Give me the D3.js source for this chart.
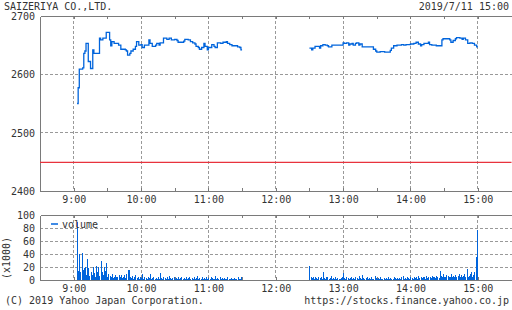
<!doctype html>
<html>
<head>
<meta charset="utf-8">
<script src="https://d3js.org/d3.v7.min.js"></script>
<style>
  body { margin: 0; background: #fff; }
  svg text { font: 10px "DejaVu Sans Mono", monospace; fill: #333; }
  .grid line { stroke: #999; stroke-dasharray: 3,2; shape-rendering: crispEdges; }
  .frame path, .frame line { stroke: #7a7a7a; shape-rendering: crispEdges; }
</style>
</head>
<body>
<script>
// minutes after 9:00 where the price changed, and the new price
var amTimes  = [3,4,5,8,9,10,11,13,15,17,18,23,24,26,29,32,33,34,36,40,42,46,47,48,50,51,53,55,56,58,60,61,63,67,68,70,73,74,76,77,80,83,85,87,90,92,93,98,99,102,104,106,108,109,111,112,114,116,117,119,120,123,125,126,128,131,133,136,137,139,141,146,148,149,150];
var amPrices = [2550,2577,2609,2611,2636,2640,2653,2622,2610,2642,2636,2662,2659,2662,2672,2659,2649,2656,2653,2650,2643,2642,2640,2633,2636,2640,2643,2648,2656,2650,2651,2646,2650,2659,2653,2648,2650,2653,2650,2654,2662,2660,2662,2659,2660,2658,2655,2657,2660,2659,2656,2654,2652,2648,2646,2643,2646,2653,2648,2642,2646,2651,2648,2646,2654,2653,2655,2656,2653,2651,2649,2647,2646,2642,2642];
var pmTimes  = [210,212,213,215,219,220,222,224,226,227,230,240,241,243,245,246,248,249,251,252,254,255,257,267,269,270,273,277,282,283,285,288,292,294,296,300,303,305,307,309,310,312,316,317,319,323,328,329,335,336,338,340,341,344,346,347,349,351,353,355,357,359,360];
var pmPrices = [2645,2642,2645,2648,2645,2649,2651,2650,2649,2647,2650,2654,2653,2654,2650,2652,2653,2650,2653,2654,2650,2652,2647,2643,2640,2638,2639,2638,2641,2645,2649,2650,2651,2650,2651,2652,2653,2655,2652,2649,2651,2653,2655,2651,2650,2649,2659,2661,2659,2655,2658,2661,2663,2662,2660,2662,2659,2653,2654,2653,2650,2647,2647];
var prevClose = 2449;

// volume per minute (x1000); morning from 9:03, afternoon from 12:30
var amVolStart = 3;
var amVolume = [90,14,40,13,42,15,18,20,8,33,
  18,6,12,7,20,11,4,21,12,20,
  6,29,12,8,20,14,26,5,9,6,
  5,9,3,5,8,4,4,8,4,7,
  3,5,7,3,9,15,16,4,3,6,
  2,4,7,3,5,2,4,3,9,2,
  4,3,2,5,3,9,2,3,4,2,
  3,2,5,2,11,3,2,4,3,2,
  4,2,6,3,2,3,5,2,3,2,
  4,2,3,5,2,3,2,4,2,3,
  5,2,3,2,4,2,3,6,2,3,
  2,4,2,3,2,5,2,3,2,4,
  3,2,2,6,2,3,2,4,2,3,
  2,3,2,2,4,2,2,3,2,2,
  3,2,2,4,2,2,5];
var pmVolStart = 210;
var pmVolume = [22,4,3,5,2,4,3,2,5,3,
  4,2,12,3,2,5,4,2,3,6,
  2,3,2,4,2,3,2,2,3,4,
  11,3,2,4,3,2,3,5,2,3,
  2,4,3,2,6,3,2,8,3,2,
  3,5,2,3,2,4,2,2,6,3,
  2,3,2,4,2,2,3,2,3,2,
  4,2,3,2,2,5,3,2,3,2,
  3,2,4,6,2,3,2,5,3,2,
  4,3,2,5,3,4,2,6,3,4,
  3,5,4,2,6,3,4,5,3,6,
  4,5,3,6,4,3,14,6,5,10,
  5,4,8,6,4,5,9,4,6,5,
  8,4,6,10,5,7,4,6,9,5,
  17,4,6,9,12,5,7,12,36,77];

var priceTicks = [2400, 2500, 2600, 2700];
var volTicks = [0, 20, 40, 60, 80, 100];
var title = "SAIZERIYA CO.,LTD.";
var stamp = "2019/7/11 15:00";

var width = 512, height = 310;
var left = 40, right = 511.5;
var pTop = 16, pBottom = 191;
var vTop = 215, vBottom = 280;
var blue = "#0064dc";

var base = new Date(2019, 6, 11, 9, 0);
function tm(m) { return new Date(base.getTime() + m * 60000); }

var x = d3.scaleTime()
    .domain([new Date(2019, 6, 11, 8, 30), new Date(2019, 6, 11, 15, 30)])
    .range([left, right]);
var y = d3.scaleLinear().domain([2400, 2700]).range([pBottom, pTop]);
var yv = d3.scaleLinear().domain([0, 100]).range([vBottom, vTop]);

var hours = x.ticks(d3.timeHour.every(1)).filter(function (d) { return x(d) > left + 1; });
var halves = x.ticks(d3.timeMinute.every(30)).filter(function (d) { return x(d) > left + 1; });

var svg = d3.select("body").append("svg")
    .attr("width", width)
    .attr("height", height);

function panel(yScale, ticks, top, bottom, hTicks) {
  var g = svg.append("g");
  // dashed grid
  var grid = g.append("g").attr("class", "grid");
  grid.selectAll(".v").data(hours).enter().append("line")
      .attr("x1", function (d) { return x(d); }).attr("x2", function (d) { return x(d); })
      .attr("y1", top).attr("y2", bottom);
  grid.selectAll(".h").data(hTicks).enter().append("line")
      .attr("x1", left).attr("x2", right)
      .attr("y1", function (d) { return yScale(d); }).attr("y2", function (d) { return yScale(d); });
  // frame: top and bottom with inner half-hour ticks, left axis
  g.append("g").attr("class", "frame")
      .attr("transform", "translate(0," + top + ")")
      .call(d3.axisBottom(x).tickValues(halves).tickSize(3).tickSizeOuter(0).tickFormat(""));
  g.append("g").attr("class", "frame")
      .attr("transform", "translate(0," + bottom + ")")
      .call(d3.axisTop(x).tickValues(halves).tickSize(3).tickSizeOuter(0).tickFormat(""));
  var la = g.append("g").attr("class", "frame")
      .attr("transform", "translate(" + left + ",0)")
      .call(d3.axisLeft(yScale).tickValues(ticks).tickSize(0).tickPadding(5).tickFormat(d3.format("d")));
  la.selectAll("text").attr("dy", ".36em");
  la.select(".domain").attr("stroke-width", 1.5);
  // hour labels
  var xl = g.append("g")
      .attr("transform", "translate(0," + bottom + ")")
      .call(d3.axisBottom(x).tickValues(hours).tickSize(0).tickPadding(5).tickFormat(d3.timeFormat("%-H:%M")));
  xl.select(".domain").remove();
  return g;
}

panel(y, priceTicks, pTop, pBottom, [2500, 2600]);
panel(yv, volTicks, vTop, vBottom, [20, 40, 60, 80]);

// previous close
svg.append("line")
    .attr("x1", left).attr("x2", right)
    .attr("y1", y(prevClose)).attr("y2", y(prevClose))
    .attr("stroke", "#e8333d").attr("stroke-width", 1.2);

// price step lines
var line = d3.line()
    .x(function (d) { return x(d.t); })
    .y(function (d) { return y(d.p); })
    .curve(d3.curveStepAfter);

[[amTimes, amPrices], [pmTimes, pmPrices]].forEach(function (s) {
  var pts = s[0].map(function (m, i) { return { t: tm(m), p: s[1][i] }; });
  svg.append("path").datum(pts)
      .attr("d", line)
      .attr("fill", "none")
      .attr("stroke", blue)
      .attr("stroke-width", 1.3);
});

// volume bars
var bars = amVolume.map(function (v, i) { return { t: tm(amVolStart + i), v: v }; })
    .concat(pmVolume.map(function (v, i) { return { t: tm(pmVolStart + i), v: v }; }));

svg.append("g").selectAll("rect").data(bars).enter().append("rect")
    .attr("x", function (d) { return Math.round(x(d.t)); })
    .attr("y", function (d) { return yv(d.v); })
    .attr("width", 1)
    .attr("height", function (d) { return yv(0) - yv(d.v); })
    .attr("fill", blue)
    .attr("shape-rendering", "crispEdges");

// legend
svg.append("line").attr("x1", 51).attr("x2", 58).attr("y1", 224).attr("y2", 224)
    .attr("stroke", blue).attr("stroke-width", 1.5);
svg.append("text").attr("x", 62).attr("y", 228).text("volume");

// texts
svg.append("text").attr("x", 4).attr("y", 10).text(title);
svg.append("text").attr("x", 509).attr("y", 10).attr("text-anchor", "end").text(stamp);
svg.append("text").attr("transform", "translate(10,258) rotate(-90)")
    .attr("text-anchor", "middle").text("(x1000)");
svg.append("text").attr("x", 5).attr("y", 304).text("(C) 2019 Yahoo Japan Corporation.");
svg.append("text").attr("x", 509).attr("y", 304).attr("text-anchor", "end").text("https://stocks.finance.yahoo.co.jp");
</script>
</body>
</html>
